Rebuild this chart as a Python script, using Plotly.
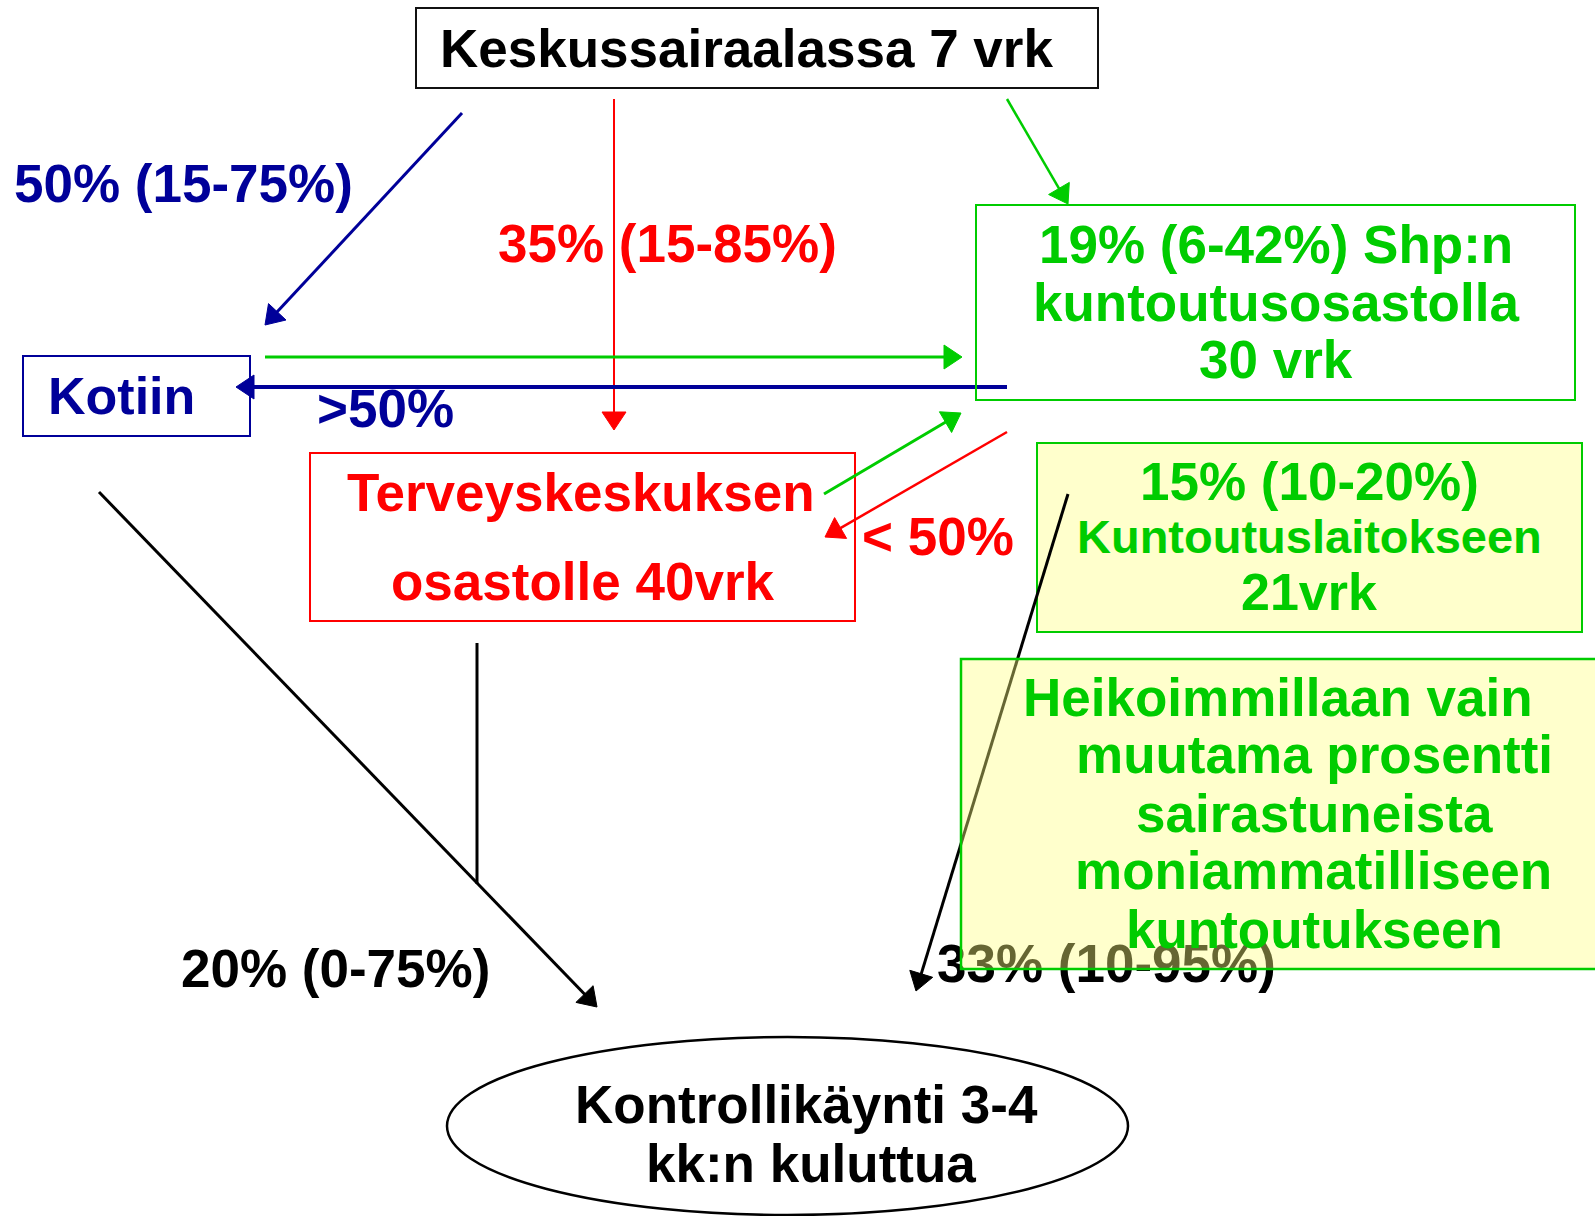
import math
import plotly.graph_objects as go

# ---------------- data (texts of the flow chart) ----------------
top_lines = ["Keskussairaalassa 7 vrk"]
home_lines = ["Kotiin"]
shp_lines = ["19% (6-42%) Shp:n", "kuntoutusosastolla", "30 vrk"]
tk_lines = ["Terveyskeskuksen", "osastolle 40vrk"]
rehab_lines = ["15% (10-20%)", "Kuntoutuslaitokseen", "21vrk"]
note_lines = ["Heikoimmillaan vain", "muutama prosentti", "sairastuneista",
              "moniammatilliseen", "kuntoutukseen"]
control_lines = ["Kontrollikäynti 3-4", "kk:n kuluttua"]
flow_labels = ["50% (15-75%)", "35% (15-85%)", ">50%", "< 50%",
               "20% (0-75%)", "33% (10-95%)"]

# ---------------- layout / styling ----------------
W, H = 1595, 1216
NAVY = "#000099"
RED = "#FF0000"
GREEN = "#00CC00"
BLACK = "#000000"
FONT = "Liberation Sans, Arial, sans-serif"
YELLOW = "rgba(255,255,128,0.4)"

shapes = []
annotations = []


def add_text(s, x, base, color, size=53, anchor="center"):
    annotations.append(dict(
        x=x, y=base - 0.35 * size, xref="x", yref="y",
        text="<b>" + s + "</b>", showarrow=False,
        xanchor=anchor, yanchor="middle", borderpad=0,
        font=dict(family=FONT, size=size, color=color)))


def add_rect(x0, y0, x1, y1, color, width=2, fill="rgba(0,0,0,0)"):
    shapes.append(dict(type="rect", xref="x", yref="y", layer="above",
                       x0=x0, y0=y0, x1=x1, y1=y1,
                       line=dict(color=color, width=width), fillcolor=fill))


def add_arrow(p0, p1, color, width, head=True, L=18, hw=12):
    x0, y0 = p0
    x1, y1 = p1
    dx, dy = x1 - x0, y1 - y0
    n = math.hypot(dx, dy)
    ux, uy = dx / n, dy / n
    ex, ey = (x1 - ux * L * 0.6, y1 - uy * L * 0.6) if head else (x1, y1)
    shapes.append(dict(type="line", xref="x", yref="y", layer="above",
                       x0=x0, y0=y0, x1=ex, y1=ey,
                       line=dict(color=color, width=width)))
    if head:
        bx, by = x1 - ux * L, y1 - uy * L
        px, py = -uy, ux
        path = "M{:.1f},{:.1f} L{:.1f},{:.1f} L{:.1f},{:.1f} Z".format(
            x1, y1, bx + px * hw, by + py * hw, bx - px * hw, by - py * hw)
        shapes.append(dict(type="path", xref="x", yref="y", layer="above",
                           path=path, fillcolor=color,
                           line=dict(color=color, width=1)))


# node boxes
add_rect(416, 8, 1098, 88, "#111111", 2)          # Keskussairaala
add_rect(23, 356, 250, 436, NAVY, 2)               # Kotiin
add_rect(310, 453, 855, 621, RED, 2)               # Terveyskeskus
shapes.append(dict(type="circle", xref="x", yref="y", layer="above",
                   x0=447, y0=1037, x1=1128, y1=1215,
                   line=dict(color=BLACK, width=2.5)))

# flows
add_arrow((462, 113), (265, 325), NAVY, 3)
add_arrow((614, 99), (614, 430), RED, 2)
add_arrow((1007, 99), (1068, 204), GREEN, 2.5)
add_arrow((265, 357), (962, 357), GREEN, 3)
add_arrow((1007, 387), (236, 387), NAVY, 4)
add_arrow((824, 494), (961, 413), GREEN, 3)
add_arrow((1007, 432), (825, 537), RED, 2.5)
add_arrow((99, 492), (597, 1007), BLACK, 3)
add_arrow((477, 643), (477, 884), BLACK, 3, head=False)

# rehab institution box (line drawn over it)
add_rect(1037, 443, 1582, 632, GREEN, 2, YELLOW)
add_arrow((1068, 494), (916, 991), BLACK, 3)

# Shp box over navy line
add_rect(976, 205, 1575, 400, GREEN, 2)
# note box, semi transparent, over line and label
add_rect(961, 659, 1605, 969, GREEN, 2.5, YELLOW)

# ---------------- texts ----------------
add_text(top_lines[0], 439, 67, BLACK, 53, "left")
add_text(home_lines[0], 47, 414, NAVY, 52, "left")
for s, b in zip(shp_lines, [263, 321, 378]):
    add_text(s, 1276, b, GREEN, 53)
for s, b, c in zip(tk_lines, [511, 600], [581, 583]):
    add_text(s, c, b, RED, 53)
for s, b, sz in zip(rehab_lines, [500, 553, 610], [53, 47, 52]):
    add_text(s, 1309, b, GREEN, sz)
for s, b, c in zip(note_lines, [716, 773, 832, 889, 948],
                   [1278, 1314, 1314, 1313, 1314]):
    add_text(s, c, b, GREEN, 53)
for s, b, c in zip(control_lines, [1123, 1182], [806, 811]):
    add_text(s, c, b, BLACK, 53)

add_text(flow_labels[0], 13, 202, NAVY, 53, "left")
add_text(flow_labels[1], 497, 262, RED, 53, "left")
add_text(flow_labels[2], 316, 427, NAVY, 53, "left")
add_text(flow_labels[3], 861, 555, RED, 53, "left")
add_text(flow_labels[4], 180, 987, BLACK, 53, "left")

fig = go.Figure()
# label drawn as trace so the translucent note box sits above it
fig.add_trace(go.Scatter(
    x=[937], y=[987 - 0.35 * 53], mode="text", text=[flow_labels[5]],
    textposition="middle right", hoverinfo="skip", showlegend=False,
    textfont=dict(family=FONT, size=53, color=BLACK, weight="bold")))

fig.update_layout(
    width=W, height=H, autosize=False,
    margin=dict(l=0, r=0, t=0, b=0, pad=0),
    paper_bgcolor="white", plot_bgcolor="white",
    xaxis=dict(range=[0, W], visible=False, fixedrange=True),
    yaxis=dict(range=[H, 0], visible=False, fixedrange=True),
    shapes=shapes, annotations=annotations,
    hovermode=False, showlegend=False,
)

fig.write_html("out.html", config={"displayModeBar": False},
               post_script="document.body.style.margin='0';document.body.style.overflow='hidden';")
